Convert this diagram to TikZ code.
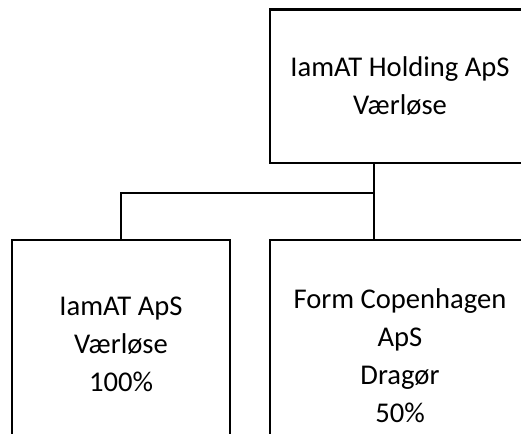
\documentclass[tikz,border=0pt]{standalone}
\usepackage{fontspec}
\setmainfont{Carlito}
\begin{document}
\begin{tikzpicture}[x=1pt,y=-1pt,
  box/.style={draw=black, line width=2.6pt, align=center,
    font=\fontsize{28.6}{38}\selectfont, inner sep=0pt},
  link/.style={draw=black, line width=2.4pt}]
\useasboundingbox (0,0) rectangle (521,433);
\clip (0,0) rectangle (521,433);
\node[box, minimum width=260pt, minimum height=153.5pt] (top) at (400,86.25) {\raisebox{-2pt}{IamAT Holding ApS}\\\raisebox{-2pt}{Værløse}};
\node[box, minimum width=218pt, minimum height=208pt] (left) at (121,344) {IamAT ApS\\Værløse\\100\%};
\node[box, minimum width=260pt, minimum height=231pt] (right) at (400,355.5) {Form Copenhagen\\ApS\\Dragør\\50\%};
\coordinate (hub) at (374,193);
\draw[link] (top.south -| hub) -- (right.north -| hub);
\draw[link] (hub) -| (left.north);
\end{tikzpicture}
\end{document}
